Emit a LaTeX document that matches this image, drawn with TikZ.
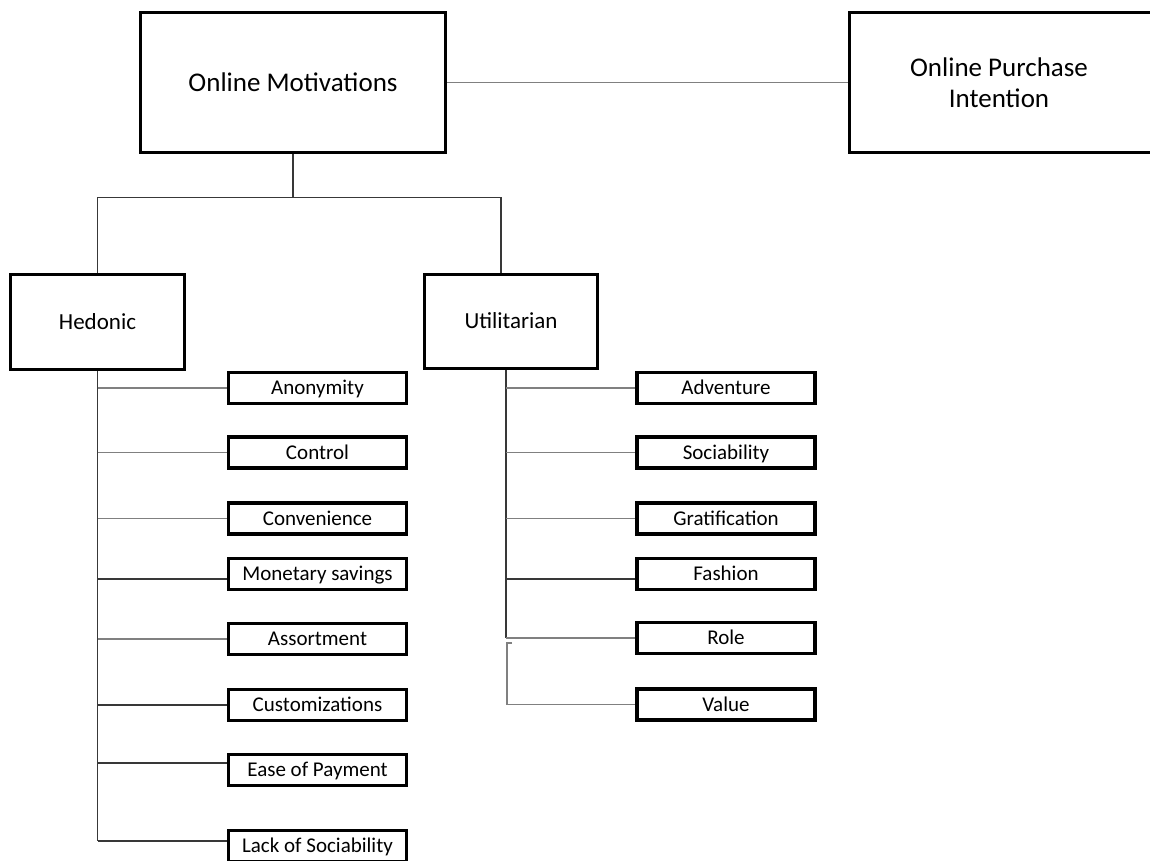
\documentclass[tikz,border=0pt]{standalone}
\usepackage{fontspec}
\setmainfont{Carlito}
\begin{document}
\begin{tikzpicture}[x=1pt,y=-1pt,
  bigbox/.style={draw=black,line width=3.6pt,fill=white,inner sep=0pt,align=center,
     font=\fontsize{27}{31}\selectfont},
  midbox/.style={draw=black,line width=3.6pt,fill=white,inner sep=0pt,align=center,
     minimum width=174pt,minimum height=95pt,font=\fontsize{23}{27}\selectfont,
     text height=14.8pt,text depth=0pt},
  leafbox/.style={draw=black,line width=3.6pt,fill=white,inner sep=0pt,align=center,
     minimum width=178pt,minimum height=31pt,font=\fontsize{21}{25}\selectfont,
     text height=13.6pt,text depth=0pt},
  dconn/.style={draw=black!78,line width=1.3pt},
  gconn/.style={draw=black!50,line width=1.4pt},
  rconn/.style={draw=black!50,line width=2.2pt}
]
\useasboundingbox (0,0) rectangle (1150,861);
\clip (0,0) rectangle (1150,861);
\fill[white] (0,0) rectangle (1150,861);

% top level
\node[bigbox,minimum width=305pt,minimum height=140pt] (om) at (293,82.5) {Online Motivations};
\node[bigbox,minimum width=312pt,minimum height=140pt] (opi) at (1005.5,82.5) {};
\node[font=\fontsize{27}{31}\selectfont,align=center,inner sep=0pt] (opit) at (999,82.5) {Online Purchase\\Intention};

% mid level
\node[midbox] (hed) at (97.5,322) {Hedonic};
\node[midbox,minimum width=173pt,minimum height=94pt] (uti) at (511,321.5) {Utilitarian};

% hedonic leaves
\node[leafbox] (h1) at (317.5,388) {Anonymity};
\node[leafbox] (h2) at (317.5,452.5) {Control};
\node[leafbox] (h3) at (317.5,518.5) {Convenience};
\node[leafbox] (h4) at (317.5,574) {Monetary savings};
\node[leafbox] (h5) at (317.5,639) {Assortment};
\node[leafbox] (h6) at (317.5,705) {Customizations};
\node[leafbox] (h7) at (317.5,770) {Ease of Payment};
\node[leafbox] (h8) at (317.5,846) {Lack of Sociability};

% utilitarian leaves
\node[leafbox] (u1) at (726,388) {Adventure};
\node[leafbox] (u2) at (726,452.5) {Sociability};
\node[leafbox] (u3) at (726,518.5) {Gratification};
\node[leafbox] (u4) at (726,574) {Fashion};
\node[leafbox] (u5) at (726,638) {Role};
\node[leafbox] (u6) at (726,704.5) {Value};

% top connectors
\draw[gconn] (om.east) -- (opi.west);
\draw[dconn] (om.south) -- ++(0,43) coordinate (j);
\draw[dconn] (hed.north) |- (j) -| ([xshift=-10pt]uti.north);

% attachment points slightly off-centre
\coordinate (h4p) at ([yshift=-5pt]h4.west);
\coordinate (h7p) at ([yshift=7pt]h7.west);
\coordinate (h8p) at ([yshift=5pt]h8.west);
\coordinate (u4p) at ([yshift=-5pt]u4.west);

% hedonic trunk and branches
\coordinate (ht) at (hed.south);
\draw[dconn] (ht) -- (ht |- h8p);
\draw[gconn] (ht |- h1.west) -- (h1.west);
\draw[gconn] (ht |- h2.west) -- (h2.west);
\draw[gconn] (ht |- h3.west) -- (h3.west);
\draw[dconn] (ht |- h4p) -- (h4p);
\draw[gconn] (ht |- h5.west) -- (h5.west);
\draw[dconn] (ht |- h6.west) -- (h6.west);
\draw[dconn] (ht |- h7p) -- (h7p);
\draw[dconn] (ht |- h8p) -- (h8p);

% utilitarian trunk and branches
\coordinate (ut) at ([xshift=-5pt]uti.south);
\draw[dconn] (ut) -- (ut |- u5.west);
\draw[gconn] (ut |- u1.west) -- (u1.west);
\draw[gconn] (ut |- u2.west) -- (u2.west);
\draw[gconn] (ut |- u3.west) -- (u3.west);
\draw[dconn] (ut |- u4p) -- (u4p);
\draw[rconn] (ut |- u5.west) -- (u5.west);
\coordinate (vt) at ([xshift=6pt,yshift=-5pt]ut |- u5.west);
\draw[gconn] (vt) -- ++(-5,0) |- (u6.west);
\end{tikzpicture}
\end{document}
